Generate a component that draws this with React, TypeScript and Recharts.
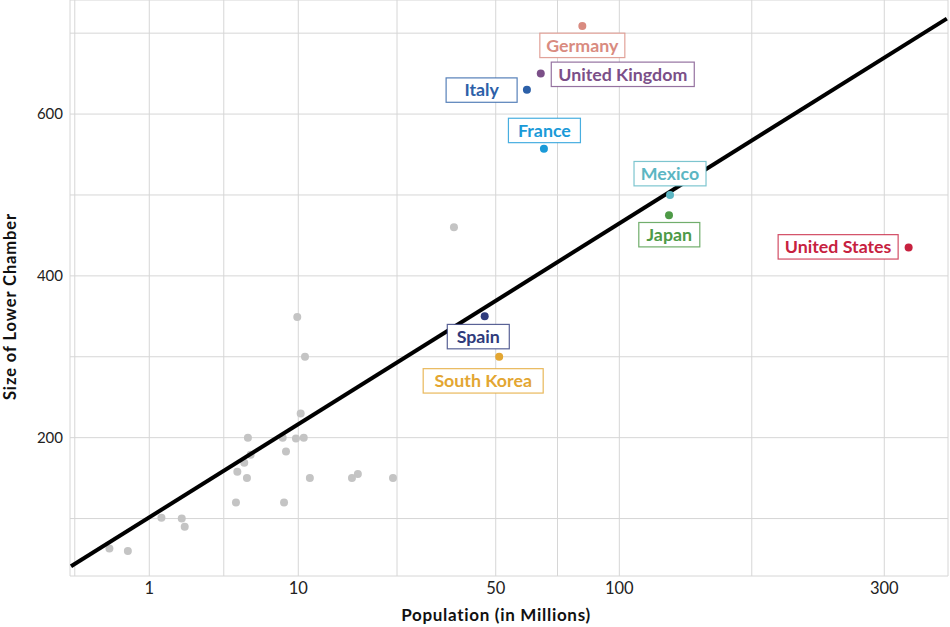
import { ComposedChart, Scatter, XAxis, YAxis, CartesianGrid } from "recharts";

// other countries (grey dots): population in millions, seats in lower chamber
const OTHER_POP = [0.33, 0.58, 1.31, 1.96, 2.07, 4.67, 4.76, 5.23, 5.42, 5.49, 5.69, 8.41, 8.54, 8.73, 9.75, 9.89, 10.26, 10.6, 10.74, 11.3, 16.98, 17.9, 24.09, 37.95];
const OTHER_SEATS = [63, 60, 101, 100, 90, 120, 158, 169, 150, 200, 179, 200, 120, 183, 199, 349, 230, 200, 300, 150, 150, 155, 150, 460];

// highlighted countries
const HIGHLIGHT_NAMES = ["Germany", "United Kingdom", "Italy", "France", "Mexico", "Japan", "United States", "Spain", "South Korea"];
const HIGHLIGHT_POP = [82.6, 65.6, 60.5, 66.8, 127.6, 127.0, 326.1, 46.6, 51.1];
const HIGHLIGHT_SEATS = [709, 650, 630, 557, 500, 475, 435, 350, 300];

// fitted line end points
const FIT_POP = [0.061, 370];
const FIT_SEATS = [41, 718];

const X_TICKS = [1, 10, 50, 100, 300];
const Y_TICKS = [200, 400, 600];
const Y_GRID = [100, 200, 300, 400, 500, 600, 700];
const X_DOMAIN_POP = [0.0574, 371.4];
const Y_DOMAIN = [29, 741];

const COLORS: Record<string, string> = {
  Germany: "#d98b80",
  "United Kingdom": "#7b4f88",
  Italy: "#2c60a8",
  France: "#1a9ad8",
  Mexico: "#5cb6c3",
  Japan: "#4e9a47",
  "United States": "#c7213f",
  Spain: "#2f3b7c",
  "South Korea": "#e3a632",
};

// label box placement relative to its dot
const LABEL_PLACE: Record<string, { dx: number; dy: number; w: number }> = {
  Germany: { dx: 0, dy: 19.5, w: 85 },
  "United Kingdom": { dx: 82, dy: 0.7, w: 143 },
  Italy: { dx: -45.3, dy: 0.3, w: 71 },
  France: { dx: 0.5, dy: -18.4, w: 72 },
  Mexico: { dx: 0, dy: -21.3, w: 72 },
  Japan: { dx: 0.3, dy: 19.5, w: 61 },
  "United States": { dx: -70.5, dy: -0.7, w: 120 },
  Spain: { dx: -6.4, dy: 20.3, w: 62 },
  "South Korea": { dx: -16, dy: 24.1, w: 120 },
};

const FONT = "Lato, 'Open Sans', sans-serif";

// x axis is a cube-root scale: plot cbrt(population) on a linear axis
const cbrt = (v: number) => Math.cbrt(v);

const others = OTHER_POP.map((p, i) => ({ c: cbrt(p), s: OTHER_SEATS[i] }));
const highlights = HIGHLIGHT_POP.map((p, i) => ({ c: cbrt(p), s: HIGHLIGHT_SEATS[i], name: HIGHLIGHT_NAMES[i] }));
const fit = FIT_POP.map((p, i) => ({ c: cbrt(p), s: FIT_SEATS[i] }));

const majorC = X_TICKS.map(cbrt);
const midC = majorC.slice(1).map((c, i) => (c + majorC[i]) / 2);
const xTicks = [2 * majorC[0] - midC[0]];
majorC.forEach((c, i) => {
  xTicks.push(c);
  if (i < midC.length) xTicks.push(midC[i]);
});

const xTickLabel = (v: number) => {
  const i = majorC.findIndex((c) => Math.abs(c - v) < 1e-6);
  return i >= 0 ? String(X_TICKS[i]) : "";
};

function GreyDot(p: any) {
  return <circle cx={p.cx} cy={p.cy} r={4} fill="#c4c4c4" />;
}

function LabeledDot(p: any) {
  const { cx, cy, payload } = p;
  const color = COLORS[payload.name];
  const pl = LABEL_PLACE[payload.name];
  const bx = cx + pl.dx;
  const by = cy + pl.dy;
  return (
    <g>
      <circle cx={cx} cy={cy} r={4} fill={color} />
      <rect
        x={bx - pl.w / 2}
        y={by - 12.2}
        width={pl.w}
        height={24.4}
        fill="#fff"
        stroke={color}
        strokeWidth={1.2}
        strokeOpacity={0.8}
      />
      <text x={bx} y={by + 6.2} textAnchor="middle" fill={color} fontFamily={FONT} fontWeight={700} fontSize={17.8}>
        {payload.name}
      </text>
    </g>
  );
}

export default function App() {
  return (
    <div style={{ position: "absolute", left: 0, top: 0, width: 950, height: 627, background: "#fff" }}>
      <ComposedChart width={950} height={627} margin={{ top: 0, right: 2, bottom: 0, left: 0 }}>
        <CartesianGrid stroke="#d6d6d6" strokeWidth={1} />
        <XAxis
          type="number"
          dataKey="c"
          domain={X_DOMAIN_POP.map(cbrt)}
          ticks={xTicks}
          interval={0}
          tickFormatter={xTickLabel}
          allowDataOverflow
          height={51}
          axisLine={false}
          tickLine={false}
          tickSize={0}
          tickMargin={6}
          tick={{ fill: "#222", fontSize: 16.5, fontFamily: FONT }}
          label={{
            content: ({ viewBox }: any) => (
              <text
                x={viewBox.x + viewBox.width / 2 - 13}
                y={viewBox.y + viewBox.height - 6}
                textAnchor="middle"
                fill="#111"
                fontFamily={FONT}
                fontWeight={700}
                fontSize={17}
                letterSpacing={0.7}
              >
                Population (in Millions)
              </text>
            ),
          }}
        />
        <YAxis
          type="number"
          dataKey="s"
          domain={Y_DOMAIN}
          ticks={Y_GRID}
          interval={0}
          tickFormatter={(v: number) => (Y_TICKS.includes(v) ? String(v) : "")}
          allowDataOverflow
          width={70}
          axisLine={false}
          tickLine={false}
          tickSize={0}
          tickMargin={7}
          tick={{ fill: "#222", fontSize: 15, fontFamily: FONT }}
          label={{
            content: ({ viewBox }: any) => {
              const x = viewBox.x + 16;
              const y = viewBox.y + viewBox.height / 2 + 18.5;
              return (
                <text
                  x={x}
                  y={y}
                  transform={`rotate(-90, ${x}, ${y})`}
                  textAnchor="middle"
                  fill="#111"
                  fontFamily={FONT}
                  fontWeight={700}
                  fontSize={16.5}
                  letterSpacing={0.9}
                >
                  Size of Lower Chamber
                </text>
              );
            },
          }}
        />
        <Scatter data={others} dataKey="s" shape={GreyDot} isAnimationActive={false} />
        <Scatter
          data={fit}
          dataKey="s"
          line={{ stroke: "#000", strokeWidth: 4 }}
          lineType="joint"
          shape={() => <g />}
          isAnimationActive={false}
        />
        <Scatter data={highlights} dataKey="s" shape={LabeledDot} isAnimationActive={false} />
      </ComposedChart>
    </div>
  );
}
